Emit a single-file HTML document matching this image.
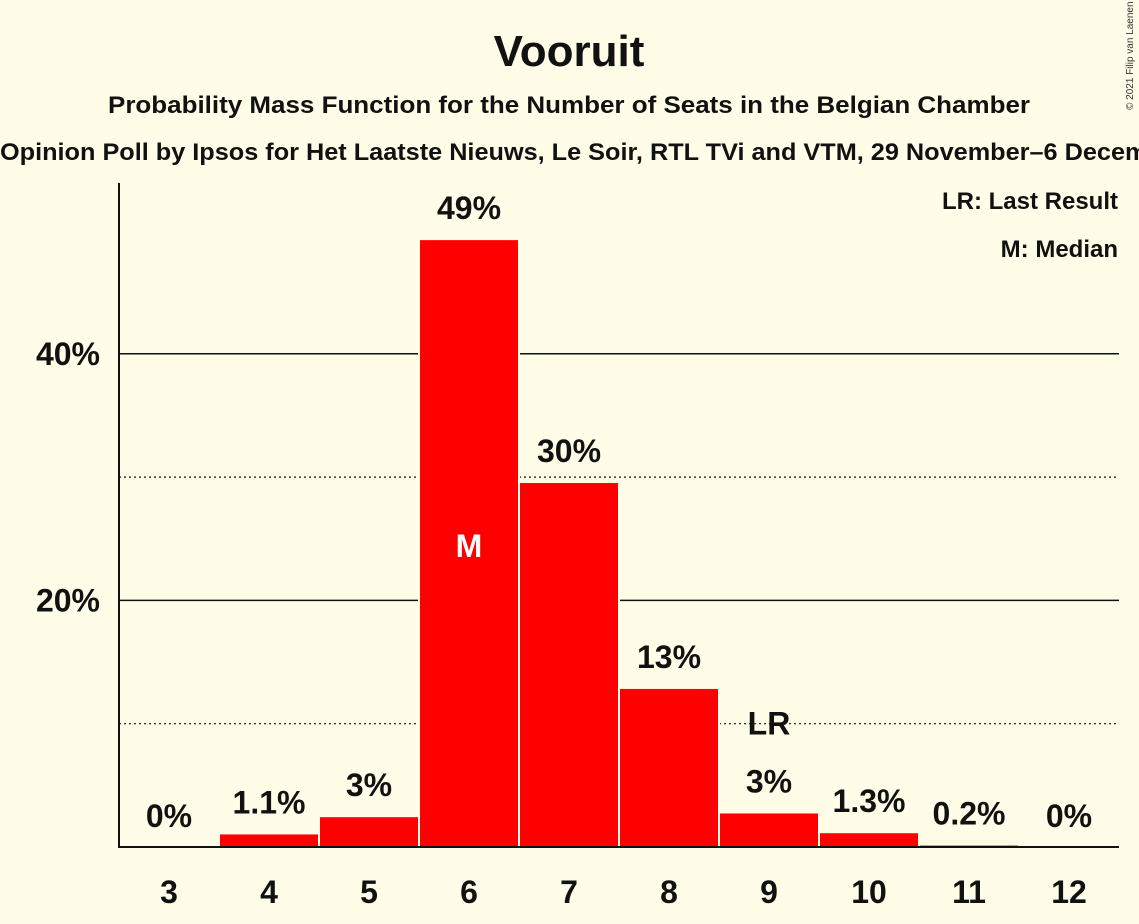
<!DOCTYPE html>
<html><head><meta charset="utf-8"><style>
body{margin:0;background:#fffde8;}
svg{display:block;font-family:"Liberation Sans",sans-serif;}
</style></head><body>
<svg width="1139" height="924">
<rect width="1139" height="924" fill="#fffde8"/>
<text x="569" y="66" text-anchor="middle" font-size="44" font-weight="bold" fill="#111">Vooruit</text>
<text x="569" y="113" text-anchor="middle" font-size="24" font-weight="bold" fill="#111" textLength="922" lengthAdjust="spacingAndGlyphs">Probability Mass Function for the Number of Seats in the Belgian Chamber</text>
<text x="0" y="160" font-size="24" font-weight="bold" fill="#111" textLength="1250" lengthAdjust="spacingAndGlyphs">Opinion Poll by Ipsos for Het Laatste Nieuws, Le Soir, RTL TVi and VTM, 29 November–6 December 2021</text>
<text x="1133" y="110" font-size="10" fill="#333" transform="rotate(-90 1133 110)">© 2021 Filip van Laenen</text>
<text x="1118" y="209" text-anchor="end" font-size="24" font-weight="bold" fill="#111">LR: Last Result</text>
<text x="1118" y="257" text-anchor="end" font-size="24" font-weight="bold" fill="#111">M: Median</text>
<g id="grid"></g>
<g id="bars"></g>
<line x1="119" y1="183" x2="119" y2="848" stroke="#111" stroke-width="2"/>
<line x1="118" y1="847" x2="1119" y2="847" stroke="#111" stroke-width="2"/>
</svg>
<script>
const seats=[3,4,5,6,7,8,9,10,11,12];
const probs=[0,1.1,2.5,49.3,29.6,12.9,2.8,1.2,0.2,0];
const labels=["0%","1.1%","3%","49%","30%","13%","3%","1.3%","0.2%","0%"];
const yTicks=[20,40];
const yDotted=[10,30];
const median=6, lastResult=9;
const ns="http://www.w3.org/2000/svg";
const y=v=>847-v*12.33;
const x=i=>169+i*100;
const grid=document.getElementById('grid'),bars=document.getElementById('bars');
function mk(tag,attrs,parent){const e=document.createElementNS(ns,tag);for(const k in attrs)e.setAttribute(k,attrs[k]);parent.appendChild(e);return e;}
yTicks.forEach(t=>{
 const l=mk('line',{x1:119,x2:1119,y1:y(t),y2:y(t),stroke:'#111','stroke-width':1.5},grid);
 
 
 const tx=mk('text',{x:100,y:y(t)+11,'text-anchor':'end','font-size':32,'font-weight':'bold',fill:'#111'},grid);
 tx.textContent=t+'%';
 
 
});
yDotted.forEach(t=>{
 const l=mk('line',{x1:119,x2:1119,y1:y(t),y2:y(t),stroke:'#111','stroke-width':1.2,'stroke-dasharray':'2,3'},grid);
 
 
});
seats.forEach((s,i)=>{
 const cx=x(i);
 if(probs[i]>0){
  const r=mk('rect',{x:cx-50,y:y(probs[i]),width:100,height:847-y(probs[i]),fill:'#ff0000',stroke:'#fffde8','stroke-width':2},bars);
  
  
 }
 const lt=mk('text',{x:cx,y:y(probs[i])-20,'text-anchor':'middle','font-size':32,'font-weight':'bold',fill:'#111'},bars);
 lt.textContent=labels[i];
 
 
 const xt=mk('text',{x:cx,y:903,'text-anchor':'middle','font-size':32,'font-weight':'bold',fill:'#111'},bars);
 xt.textContent=s;
 
 
 if(s===median){
  const m=mk('text',{x:cx,y:y(probs[i]/2)+14,'text-anchor':'middle','font-size':32,'font-weight':'bold',fill:'#fff'},bars);
  m.textContent='M';
  
  
 }
 if(s===lastResult){
  const m=mk('text',{x:cx,y:y(probs[i])-78,'text-anchor':'middle','font-size':32,'font-weight':'bold',fill:'#111'},bars);
  m.textContent='LR';
  
  
 }
});
</script>
</body></html>
